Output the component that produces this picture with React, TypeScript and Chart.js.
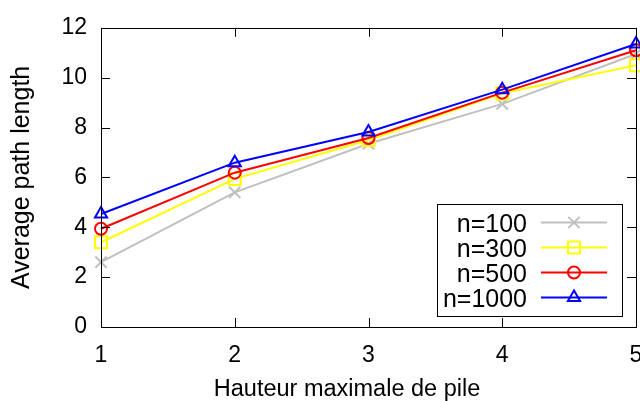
import React, { useEffect, useRef } from 'react';
import { Chart, registerables } from 'chart.js';
import { drawPoint } from 'chart.js/helpers';

Chart.register(...registerables);

const heights = [1, 2, 3, 4, 5];
const seriesNames = ['n=100', 'n=300', 'n=500', 'n=1000'];
const n100 = [2.6, 5.4, 7.35, 8.95, 10.95];
const n300 = [3.4, 5.94, 7.5, 9.37, 10.5];
const n500 = [3.94, 6.19, 7.58, 9.4, 11.1];
const n1000 = [4.53, 6.59, 7.82, 9.52, 11.35];
const seriesValues = [n100, n300, n500, n1000];
const seriesColors = ['#c0c0c0', '#ffff00', '#ff0000', '#0000ff'];
const seriesMarkers = ['crossRot', 'rect', 'circle', 'triangle'];
const markerRadius = [8, 8.5, 6, 7];
const xTitle = 'Hauteur maximale de pile';
const yTitle = 'Average path length';

const FONT = '"Liberation Sans", Arial, sans-serif';

const frame = {
  id: 'gnuFrame',
  afterDatasetsDraw(chart: any) {
    const { ctx, chartArea: a } = chart;
    const xs = chart.scales.x;
    const ys = chart.scales.y;
    const tl = 9;
    ctx.save();
    ctx.strokeStyle = '#000';
    ctx.lineWidth = 1;
    ctx.beginPath();
    xs.ticks.forEach((t: any) => {
      const px = Math.round(xs.getPixelForValue(t.value)) + 0.5;
      ctx.moveTo(px, a.bottom);
      ctx.lineTo(px, a.bottom - tl);
      ctx.moveTo(px, a.top);
      ctx.lineTo(px, a.top + tl);
    });
    ys.ticks.forEach((t: any) => {
      const py = Math.round(ys.getPixelForValue(t.value)) + 0.5;
      ctx.moveTo(a.left, py);
      ctx.lineTo(a.left + tl, py);
      ctx.moveTo(a.right, py);
      ctx.lineTo(a.right - tl, py);
    });
    ctx.stroke();
    ctx.strokeRect(Math.round(a.left) + 0.5, Math.round(a.top) + 0.5, Math.round(a.right - a.left), Math.round(a.bottom - a.top));
    // x tick labels
    ctx.fillStyle = '#000';
    ctx.font = `23px ${FONT}`;
    ctx.textAlign = 'center';
    ctx.textBaseline = 'alphabetic';
    xs.ticks.forEach((t: any) => {
      ctx.fillText(String(t.value), xs.getPixelForValue(t.value), a.bottom + 35);
    });
    ctx.restore();
  },
  afterDraw(chart: any) {
    const { ctx } = chart;
    ctx.save();
    // x-axis title
    ctx.fillStyle = '#000';
    ctx.font = `23.5px ${FONT}`;
    ctx.textAlign = 'center';
    ctx.textBaseline = 'alphabetic';
    ctx.fillText(xTitle, 347, 396);
    // legend
    ctx.strokeStyle = '#000';
    ctx.lineWidth = 1;
    ctx.fillStyle = '#fff';
    ctx.fillRect(437, 204, 185, 112);
    ctx.strokeRect(437.5, 204.5, 185, 112);
    chart.data.datasets.forEach((ds: any, i: number) => {
      const y = 222.5 + i * 25;
      ctx.fillStyle = '#000';
      ctx.font = `25px ${FONT}`;
      ctx.textAlign = 'right';
      ctx.textBaseline = 'alphabetic';
      ctx.fillText(ds.label, 527, y + 9);
      ctx.strokeStyle = ds.borderColor;
      ctx.lineWidth = 2;
      ctx.beginPath();
      ctx.moveTo(541, y);
      ctx.lineTo(607, y);
      ctx.stroke();
      ctx.fillStyle = 'rgba(0,0,0,0)';
      drawPoint(ctx, { pointStyle: ds.pointStyle, radius: ds.pointRadius, borderWidth: 2, rotation: 0 }, 574, y);
    });
    ctx.restore();
  },
};

export default function App() {
  const ref = useRef<HTMLCanvasElement>(null);
  useEffect(() => {
    if (!ref.current) return;
    const chart = new Chart(ref.current, {
      type: 'line',
      data: {
        datasets: seriesNames.map((name, i) => ({
          label: name,
          data: heights.map((h, j) => ({ x: h, y: seriesValues[i][j] })),
          borderColor: seriesColors[i],
          backgroundColor: 'rgba(0,0,0,0)',
          pointBackgroundColor: 'rgba(0,0,0,0)',
          pointBorderColor: seriesColors[i],
          borderWidth: 2,
          pointBorderWidth: 2,
          pointStyle: seriesMarkers[i],
          pointRadius: markerRadius[i],
          tension: 0,
          fill: false,
          clip: false,
          order: seriesNames.length - i,
        })),
      },
      options: {
        animation: false,
        responsive: false,
        events: [],
        layout: { autoPadding: false, padding: { left: 0, right: 4, top: 26, bottom: 0 } },
        plugins: { legend: { display: false }, tooltip: { enabled: false } },
        scales: {
          x: {
            type: 'linear',
            min: 1,
            max: 5,
            ticks: { stepSize: 1, display: false },
            grid: { display: false, drawTicks: false },
            border: { display: false },
            afterFit: (s: any) => {
              s.height = 74;
              s.paddingLeft = 0;
              s.paddingRight = 0;
            },
          },
          y: {
            type: 'linear',
            min: 0,
            max: 12,
            ticks: { stepSize: 2, color: '#000', font: { family: FONT, size: 23 }, padding: 14 },
            grid: { display: false, drawTicks: false },
            border: { display: false },
            title: {
              display: true,
              text: yTitle,
              color: '#000',
              font: { family: FONT, size: 25 },
              padding: { top: 7, bottom: 0 },
            },
            afterFit: (s: any) => {
              s.width = 101;
            },
          },
        },
      },
      plugins: [frame],
    });
    return () => chart.destroy();
  }, []);
  return (
    <div style={{ position: 'absolute', left: 0, top: 0, width: 640, height: 401, background: '#fff' }}>
      <canvas ref={ref} width={640} height={401} style={{ display: 'block' }} />
    </div>
  );
}
